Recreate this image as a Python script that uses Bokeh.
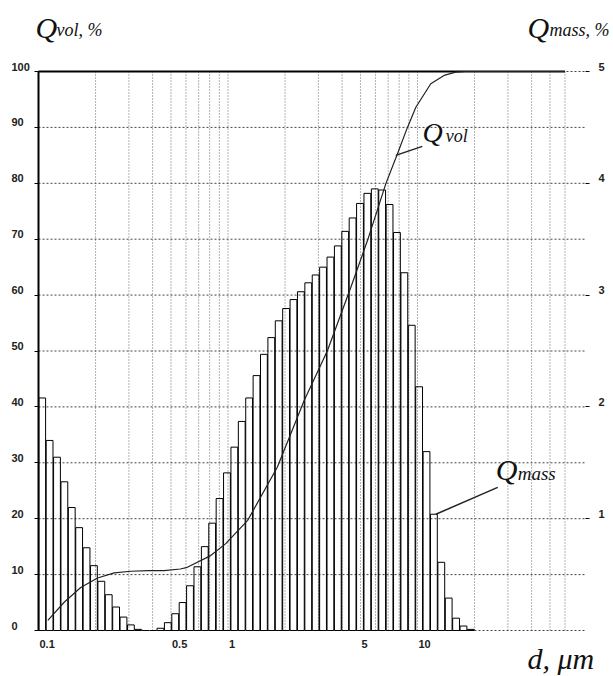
import math
import numpy as np
from bokeh.plotting import figure
from bokeh.models import (Range1d, LinearAxis, FixedTicker, Label, LabelSet,
                          ColumnDataSource)
from bokeh.core.properties import value
from bokeh.embed import file_html
from bokeh.resources import INLINE

# ---------------- data ----------------
# 59 logarithmic size classes between 0.1 and 20 um
d_min, d_max, n_bins = 0.1, 20.0, 59
# mass fraction per class, % (right axis)
q_mass = [2.08, 1.70, 1.55, 1.33, 1.10, 0.92, 0.74, 0.58, 0.44, 0.32,
          0.21, 0.12, 0.05, 0.01, 0.00, 0.00, 0.02, 0.07, 0.15, 0.25,
          0.40, 0.57, 0.75, 0.96, 1.18, 1.41, 1.64, 1.87, 2.08, 2.28,
          2.47, 2.62, 2.77, 2.88, 2.96, 3.03, 3.11, 3.18, 3.25, 3.34,
          3.44, 3.57, 3.69, 3.82, 3.91, 3.95, 3.94, 3.81, 3.56, 3.20,
          2.73, 2.18, 1.60, 1.04, 0.61, 0.29, 0.11, 0.04, 0.01]

# cumulative volume distribution, % (left axis)
qvol_d = [0.112, 0.137, 0.167, 0.205, 0.251, 0.307, 0.38, 0.46, 0.56, 0.61,
          0.81, 0.97, 1.27, 1.82, 2.52, 3.35, 4.45, 5.45, 6.8, 7.84,
          8.85, 9.8, 11.75, 13.8, 15.9, 18.0, 60.0]
qvol = [1.8, 5.1, 7.7, 9.4, 10.3, 10.6, 10.7, 10.7, 11.0, 11.3,
        13.4, 15.5, 19.7, 29.2, 41.1, 50.1, 61.4, 69.8, 79.9, 85.3,
        90.0, 93.6, 97.8, 99.3, 99.9, 100.0, 100.0]

left_ticks = [0, 10, 20, 30, 40, 50, 60, 70, 80, 90, 100]
right_ticks = [1, 2, 3, 4, 5]
x_ticks = [0.1, 0.5, 1, 5, 10]
x_tick_labels = ["0.1", "0.5", "1", "5", "10"]
x_grid = [0.2, 0.3, 0.4, 0.5, 0.6, 0.7, 0.8, 0.9, 1,
          2, 3, 4, 5, 6, 7, 8, 9, 10, 20, 30, 40, 50, 60]

# leader lines (curve label pointers)
vol_leader_x, vol_leader_y = [7.68, 10.6], [85.0, 86.6]
mass_leader_x, mass_leader_y = [12.5, 26.5], [20.8, 25.6]

X_START, X_END = 0.1, 77
Y_TOP = 100
MASS_FACTOR = 20  # 100 % vol  <->  5 % mass

# ---------------- layout (pixels) ----------------
W, H = 613, 676
PX_L, PX_R, PX_T, PX_B = 38, 585, 71, 630
dec = (PX_R - PX_L) / math.log10(X_END / X_START)
x_lo = X_START * 10 ** (-PX_L / dec)
x_hi = X_START * 10 ** ((W - PX_L) / dec)
upy = (PX_B - PX_T) / Y_TOP
y_hi = Y_TOP + PX_T / upy
y_lo = -(H - PX_B) / upy

p = figure(width=W, height=H, x_axis_type="log",
           x_range=Range1d(x_lo, x_hi), y_range=Range1d(y_lo, y_hi),
           output_backend="svg", toolbar_location=None, min_border=0)
p.extra_y_ranges = {"mass": Range1d(y_lo / MASS_FACTOR, y_hi / MASS_FACTOR)}
p.outline_line_color = None
p.background_fill_color = "white"
p.title.visible = False
p.grid.visible = False
p.xaxis.visible = False

# left axis fixed at d = 0.1
ya = p.yaxis[0]
ya.fixed_location = X_START
ya.bounds = (0, Y_TOP)
ya.ticker = FixedTicker(ticks=left_ticks)
ya.axis_line_width = 2
ya.axis_line_color = "black"
ya.major_tick_out = 4
ya.major_tick_in = 0
ya.minor_tick_line_color = None
ya.major_label_overrides = {t: "" for t in left_ticks}

# right axis (mass %)
ra = LinearAxis(y_range_name="mass", ticker=FixedTicker(ticks=right_ticks),
                fixed_location=X_END, bounds=(0, Y_TOP / MASS_FACTOR))
ra.axis_line_color = None
ra.major_tick_out = 4
ra.major_tick_in = 0
ra.minor_tick_line_color = None
ra.major_label_overrides = {t: "" for t in right_ticks}
p.add_layout(ra, "right")

# dotted grid
p.segment(x0=x_grid, y0=0, x1=x_grid, y1=Y_TOP, line_color="#666666",
          line_dash="1 2", line_width=1)
p.segment(x0=X_START, y0=left_ticks, x1=X_END, y1=left_ticks,
          line_color="#444444", line_dash="2 2", line_width=1)

# histogram bars
edges = np.geomspace(d_min, d_max, n_bins + 1)
gap = 1.0035
bars = ColumnDataSource(dict(left=edges[:-1] * gap, right=edges[1:] / gap,
                             top=q_mass))
p.quad(left="left", right="right", bottom=0, top="top", source=bars,
       y_range_name="mass", fill_color=None, line_color="black",
       line_width=1)

# top border line
p.line([X_START, 60], [Y_TOP, Y_TOP], line_color="black", line_width=2)

# cumulative curve
p.line(qvol_d, qvol, line_color="#222222", line_width=1.2)

# leaders
p.line(vol_leader_x, vol_leader_y, line_color="#222222", line_width=1.5)
p.line(mass_leader_x, mass_leader_y, line_color="#222222", line_width=1.5)

# tick labels
tick_font = dict(text_font=value("Liberation Sans"), text_font_style="bold",
                 text_font_size="11px", text_color="#222222")
lsrc = ColumnDataSource(dict(x=[X_START] * len(left_ticks), y=left_ticks,
                             t=[str(v) for v in left_ticks]))
p.add_layout(LabelSet(x="x", y="y", text="t", source=lsrc, x_offset=-27,
                      y_offset=1, text_align="left",
                      text_baseline="alphabetic", **tick_font))
rsrc = ColumnDataSource(dict(x=[X_END] * len(right_ticks), y=right_ticks,
                             t=[str(v) for v in right_ticks]))
p.add_layout(LabelSet(x="x", y="y", text="t", source=rsrc, x_offset=13,
                      y_offset=1, text_align="left",
                      text_baseline="alphabetic", y_range_name="mass",
                      **tick_font))
xsrc = ColumnDataSource(dict(x=x_ticks, y=[0] * len(x_ticks), t=x_tick_labels))
p.add_layout(LabelSet(x="x", y="y", text="t", source=xsrc, x_offset=1,
                      y_offset=-9, text_align="left", text_baseline="top",
                      **tick_font))


def lab(x, y, text, size, xo=0, yo=0):
    p.add_layout(Label(x=x, y=y, text=text, x_offset=xo, y_offset=yo,
                       text_font="Liberation Serif", text_font_style="italic",
                       text_font_size=size, text_color="#111111",
                       text_align="left", text_baseline="alphabetic"))


# axis titles
lab(X_START, Y_TOP, "Q", "30px", xo=-3, yo=44)
lab(X_START, Y_TOP, "vol, %", "18px", xo=18, yo=42)
lab(X_END, Y_TOP, "Q", "30px", xo=-58, yo=44)
lab(X_END, Y_TOP, "mass, %", "18px", xo=-36, yo=42)
lab(X_END, 0, "d, \u03bcm", "30px", xo=-58, yo=-28)
# curve labels
lab(10.63, 87.5, "Q", "28px", yo=9)
lab(14.1, 87.0, "vol", "18px", yo=8)
lab(25.9, 26.8, "Q", "30px", yo=11)
lab(33.8, 26.8, "mass", "19px", yo=7)

open("out.html", "w").write(file_html(p, INLINE))
